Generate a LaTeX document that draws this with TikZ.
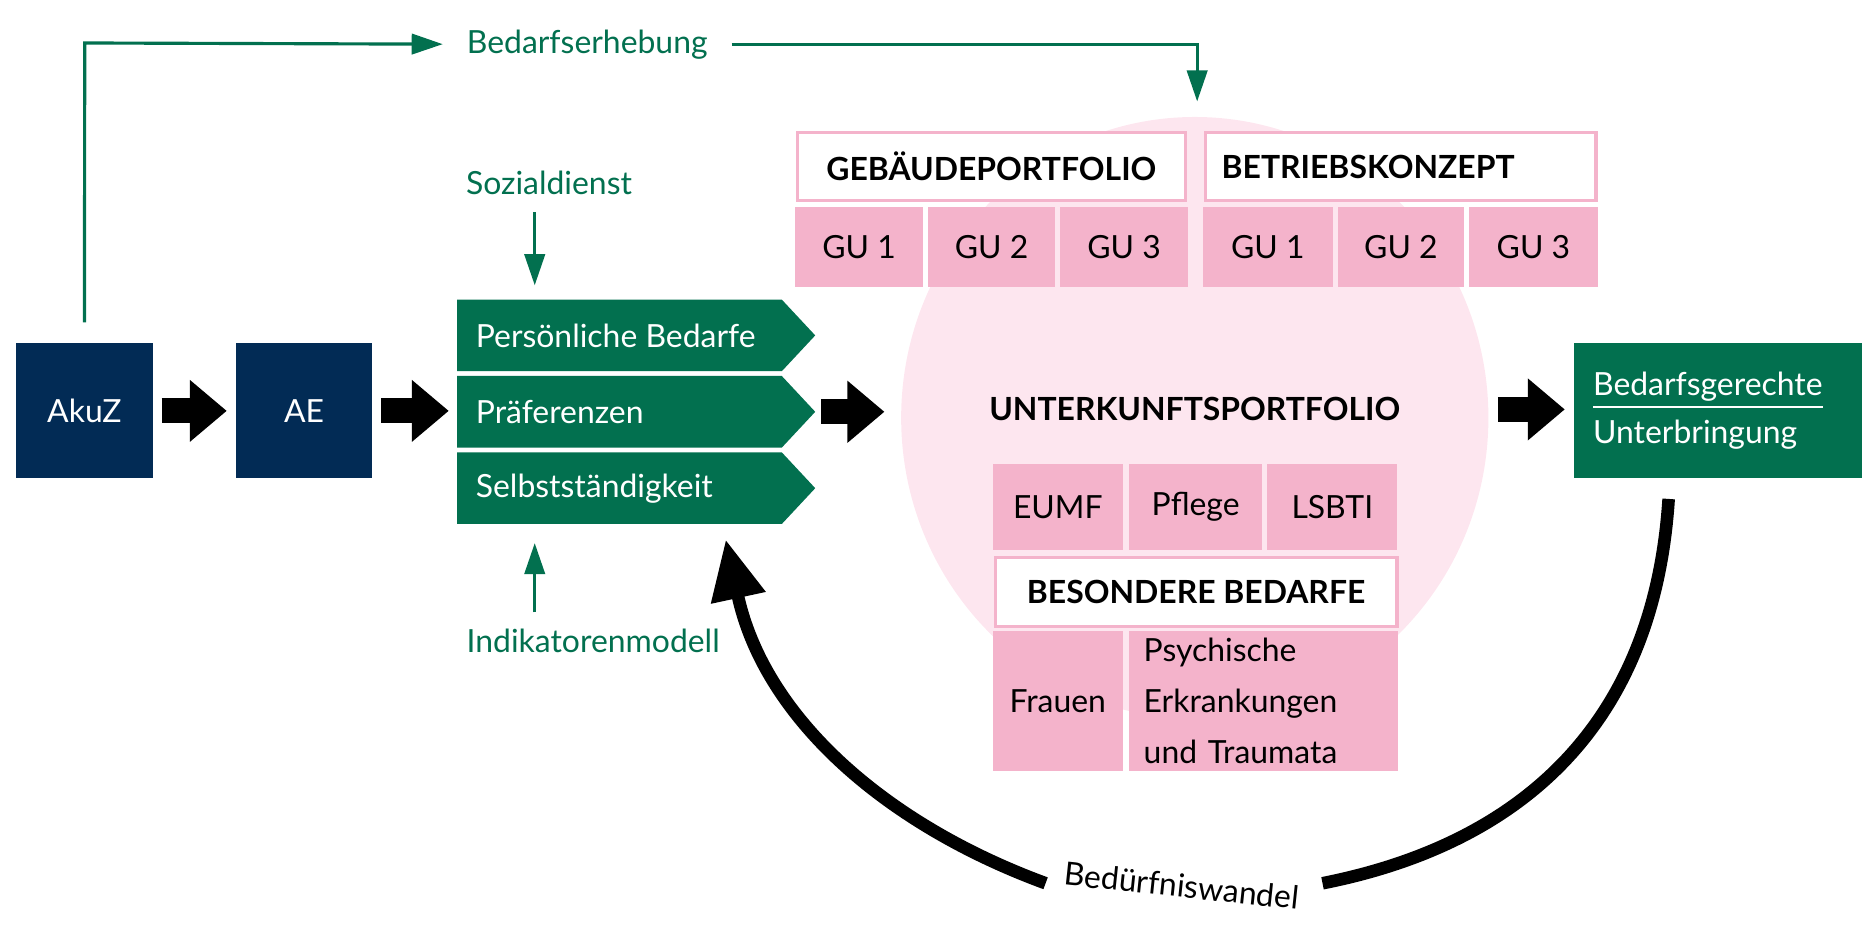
\documentclass[tikz,border=0pt]{standalone}
\usepackage{fontspec}
\setmainfont{Lato}
\usetikzlibrary{arrows.meta,calc}
\definecolor{navy}{HTML}{022B55}
\definecolor{dgreen}{HTML}{02704F}
\definecolor{pinkb}{HTML}{F4B3CB}
\definecolor{pinkl}{HTML}{FDE6EF}
\begin{document}
\begin{tikzpicture}[x=0.01cm,y=-0.01cm,
  txt/.style={font=\fontsize{7.6}{9}\selectfont},
  navybox/.style={fill=navy,text=white,txt,inner sep=0,anchor=north west},
  pinkbox/.style={fill=pinkb,txt,inner sep=0,anchor=north west},
  whitebox/.style={fill=white,draw=pinkb,line width=0.85pt,font=\fontsize{7.6}{9}\selectfont\bfseries,inner sep=0,anchor=north west},
  glabel/.style={txt,text=dgreen,inner sep=1pt},
  blockarrow/.style={line width=2.1mm,-{Triangle[length=3.1mm,width=5mm]},shorten <=0.7mm,shorten >=0.7mm},
  garrow/.style={dgreen,line width=0.75pt,-{Triangle[length=2.6mm,width=1.7mm]}},
  chev/.style={fill=dgreen}]
\useasboundingbox (0,0) rectangle (1560,775);
% ellipse
\fill[pinkl] (1001,350) ellipse [x radius=246, y radius=252];
% boxes
\node[navybox,minimum width=1.14cm,minimum height=1.13cm] (akuz) at (13,287) {AkuZ};
\node[navybox,minimum width=1.14cm,minimum height=1.13cm] (ae) at (197,287) {AE};
% chevrons
\foreach \yy/\nm in {251/c1,315/c2,379/c3}{
  \fill[chev] (383,\yy) -- (655,\yy) -- (683,\yy+30) -- (655,\yy+60) -- (383,\yy+60) -- cycle;
  \coordinate (\nm) at (383,\yy);
}
\node[txt,text=white,anchor=west,inner sep=0] (pb) at (398,281) {Persönliche Bedarfe};
\node[txt,text=white,anchor=west,inner sep=0] (pr) at (398,345) {Präferenzen};
\node[txt,text=white,anchor=west,inner sep=0] (sb) at (398,409) {Selbstständigkeit};
\coordinate (chevtop) at (448,251);
\coordinate (chevbot) at (448,439);
\coordinate (chevtip) at (683,345);
% green labels
\node[glabel] (soz) at (460,153) {Sozialdienst};
\node[glabel] (ind) at (497,537) {Indikatorenmodell};
\node[glabel] (bed) at (492,37) {Bedarfserhebung};
\draw[garrow] (448,178) -- ($(chevtop)+(0,-12)$);
\draw[garrow] (448,513) -- ($(chevbot)+(0,16)$);
\coordinate (gtarget) at (1003,85);
\draw[garrow] ($(akuz.north)+(0,-17)$) -- (71,36) -- ($(bed.west)+(-16,0)$);
\draw[garrow] ($(bed.east)+(16,0)$) -| (gtarget);
% portfolio
\node[whitebox,minimum width=3.25cm,minimum height=0.57cm] (geb) at (666.5,109.5) {GEBÄUDEPORTFOLIO};
\node[whitebox,minimum width=3.27cm,minimum height=0.57cm,text width=3.0cm,align=left] (bet) at (1008.5,109.5) {BETRIEBSKONZEPT};
\foreach \xa/\w/\nm/\t in {665/108/g1/GU 1,777/106/g2/GU 2,887/108/g3/GU 3,1007/109/g4/GU 1,1120/106/g5/GU 2,1230/108/g6/GU 3}{
  \node[pinkbox,minimum width=\w*0.01cm,minimum height=0.67cm] (\nm) at (\xa,173) {\t};
}
\node[font=\fontsize{7.6}{9}\selectfont\bfseries] (unt) at (1001,343) {UNTERKUNFTSPORTFOLIO};
\foreach \xa/\w/\nm/\t in {831/109/eu/EUMF,945/112/pf/Pflege,1061/109/ls/LSBTI}{
  \node[pinkbox,minimum width=\w*0.01cm,minimum height=0.72cm] (\nm) at (\xa,388) {\t};
}
\node[whitebox,minimum width=3.36cm,minimum height=0.58cm] (bes) at (832.5,465.5) {BESONDERE BEDARFE};
\node[pinkbox,minimum width=1.09cm,minimum height=1.17cm] (fr) at (831,528) {Frauen};
\node[pinkbox,minimum width=2.25cm,minimum height=1.17cm,align=left,text width=2.0cm,font=\fontsize{7.6}{12.2}\selectfont] (ps) at (945,528) {Psychische\\Erkrankungen\\und Traumata};
% result
\node[fill=dgreen,text=white,anchor=north west,minimum width=2.42cm,minimum height=1.13cm,inner sep=0,align=left,text width=2.1cm,font=\fontsize{7.6}{11.5}\selectfont] (bg) at (1318,287) {\underline{Bedarfsgerechte}\\Unterbringung};
% block arrows
\draw[blockarrow] (akuz) -- (ae);
\draw[blockarrow] (ae) -- (c2 |- ae);
\draw[blockarrow,shorten <=0.5mm] (chevtip) -- (748,345);
\coordinate (ue) at (1248,343);
\draw[blockarrow] (ue) -- (bg.west |- ue);
% arc
\node[txt,rotate=-6,inner sep=0] (bw) at (990,742) {Bedürfniswandel};
\draw[line width=3pt] (1398,418) .. controls (1385,620) and (1260,710) .. (1108,740);
\draw[line width=3pt,-{Triangle[length=5mm,width=4.4mm]}] (876,740) .. controls (740,690) and (640,600) .. (608,452);
\end{tikzpicture}
\end{document}
